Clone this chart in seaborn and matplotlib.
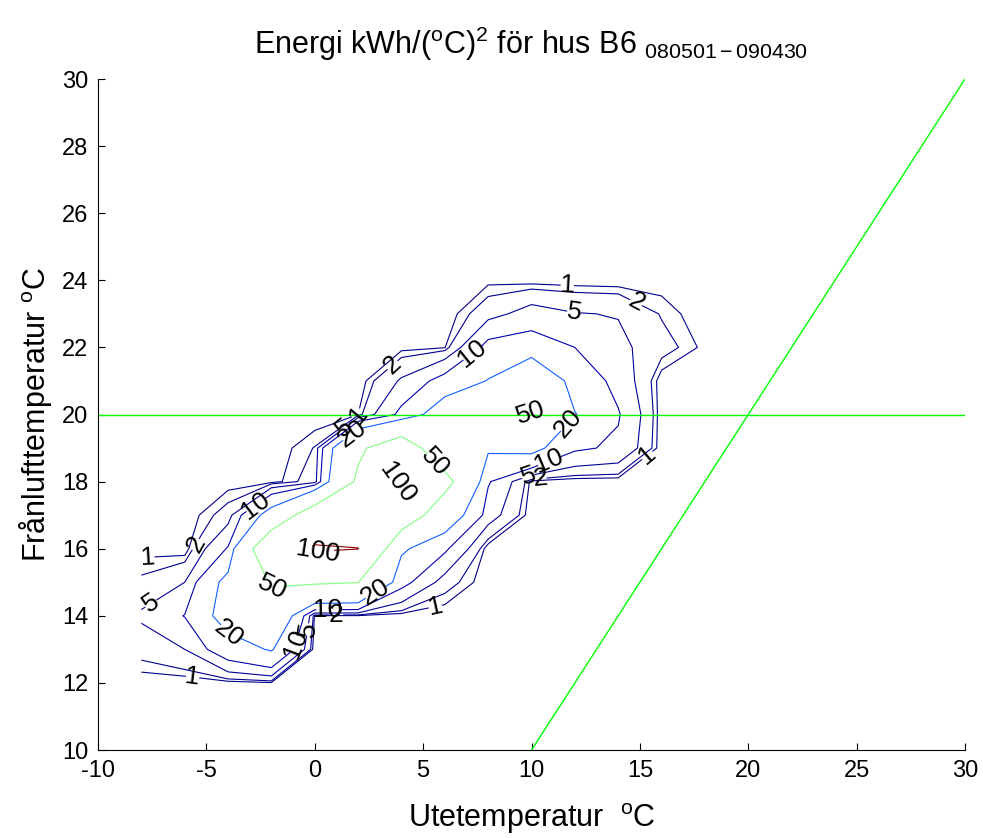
import numpy as np
import pandas as pd
import matplotlib
matplotlib.use("Agg")
import matplotlib.pyplot as plt
import seaborn as sns

# =====================================================================
# DATA
# =====================================================================
ute_temp = [-8, -6, -4, -2, 0, 2, 4, 6, 8, 10, 12, 14, 16, 18]
franluft_temp = [12, 13, 14, 15, 16, 17, 18, 19, 20, 21, 22, 23, 24]

# energy per cell, one row per franluft_temp value (columns = ute_temp)
energi = [
    [0.1, 0.0, 0.3, 0.8, 0.0, 0.0, 0.0, 0.0, 0.0, 0.0, 0.0, 0.0, 0.0, 0.0],
    [2.9, 5.0, 14.6, 21.0, 0.0, 0.0, 0.0, 0.0, 0.0, 0.0, 0.0, 0.0, 0.0, 0.0],
    [5.6, 10.2, 25.4, 38.0, 0.7, 0.7, 0.16, 0.0, 0.0, 0.0, 0.0, 0.0, 0.0, 0.0],
    [2.4, 5.0, 24.0, 52.0, 53.0, 50.5, 12.2, 3.0, 0.0, 0.0, 0.0, 0.0, 0.0, 0.0],
    [0.5, 0.0, 10.5, 80.0, 104.0, 100.5, 22.0, 11.0, 0.0, 0.0, 0.0, 0.0, 0.0, 0.0],
    [0.0, 0.0, 3.0, 26.0, 70.0, 80.0, 72.0, 30.0, 7.0, 0.0, 0.0, 0.0, 0.0, 0.0],
    [0.0, 0.0, 0.3, 0.3, 3.1, 55.0, 106.0, 60.0, 10.6, 0.5, 0.0, 0.0, 0.0, 0.0],
    [0.0, 0.0, 0.0, 0.0, 2.1, 45.0, 70.0, 26.7, 21.8, 24.0, 11.0, 9.0, 0.0, 0.0],
    [0.0, 0.0, 0.0, 0.0, 0.0, 1.0, 11.6, 28.4, 35.0, 51.0, 20.5, 10.5, 0.0, 0.0],
    [0.0, 0.0, 0.0, 0.0, 0.0, 0.0, 5.5, 12.5, 20.5, 36.0, 15.0, 8.0, 0.1, 0.0],
    [0.0, 0.0, 0.0, 0.0, 0.0, 0.0, 0.5, 0.9, 12.0, 13.2, 10.0, 6.0, 2.9, 0.6],
    [0.0, 0.0, 0.0, 0.0, 0.0, 0.0, 0.0, 0.0, 3.5, 6.8, 5.2, 4.8, 1.8, 0.0],
    [0.0, 0.0, 0.0, 0.0, 0.0, 0.0, 0.0, 0.0, 0.6, 0.3, 0.2, 0.1, 0.3, 0.0],
]

nivaer = [1, 2, 5, 10, 20, 50, 100]
niva_farg = ["#00008a", "#00008f", "#000099", "#0000b0", "#1060ff",
             "#80ff80", "#8c0000"]

# reference lines: constant 20 degC indoor and ute = franluft
horis_x = [-10, 30]
horis_y = [20, 20]
diag_x = [10, 30]
diag_y = [10, 30]

# where the contour labels sit in the reference, per level
etiketter = {
    1: [(11.65, 23.8), (14.9, 19.1), (2.0, 20.0), (-7.7, 15.7),
        (-5.65, 12.1), (5.55, 14.3)],
    2: [(14.7, 23.2), (3.7, 21.4), (10.4, 18.0), (-5.4, 16.1), (1.0, 14.0)],
    5: [(11.9, 22.9), (9.9, 18.1), (1.5, 19.5), (-7.6, 14.4), (-0.4, 13.6)],
    10: [(7.3, 21.8), (10.8, 18.6), (-2.6, 17.2), (-1.1, 13.2), (0.6, 14.3)],
    20: [(11.6, 19.8), (1.9, 19.3), (-4.05, 13.4), (2.8, 14.7)],
    50: [(9.9, 20.1), (5.6, 18.6), (-1.96, 14.8)],
    100: [(3.7, 17.9), (0.15, 15.9)],
}

# =====================================================================
# PLOT
# =====================================================================
sns.set_theme(style="ticks")
plt.rcParams["font.family"] = ["Liberation Sans", "DejaVu Sans"]
plt.rcParams["mathtext.fontset"] = "custom"
plt.rcParams["mathtext.rm"] = "Liberation Sans"
plt.rcParams["mathtext.it"] = "Liberation Sans:italic"
plt.rcParams["mathtext.default"] = "regular"
plt.rcParams["axes.unicode_minus"] = False
plt.rcParams["text.color"] = "black"
plt.rcParams["axes.labelcolor"] = "black"

fig = plt.figure(figsize=(9.83, 8.38), dpi=100)
ax = fig.add_axes([0.0997, 0.105, 0.882, 0.8007])

X, Y = np.meshgrid(ute_temp, franluft_temp)
Z = np.array(energi)
# one contour set per level so each label lands on its own level
for niva, farg in zip(nivaer, niva_farg):
    cs = ax.contour(X, Y, Z, levels=[niva], colors=[farg], linewidths=0.8)
    ax.clabel(cs, fmt="%g", fontsize=19, colors="black",
              manual=etiketter[niva], inline=True, inline_spacing=3)

ref = pd.DataFrame({"x": horis_x, "y": horis_y})
sns.lineplot(data=ref, x="x", y="y", color="#00ff00", lw=1, ax=ax)
ref2 = pd.DataFrame({"x": diag_x, "y": diag_y})
sns.lineplot(data=ref2, x="x", y="y", color="#00ff00", lw=1, ax=ax)

ax.set_xlim(-10, 30)
ax.set_ylim(10, 30)
ax.set_xticks(range(-10, 31, 5))
ax.set_yticks(range(10, 31, 2))
ax.tick_params(direction="in", length=5, width=0.8, labelsize=17,
               colors="black", pad=7)
sns.despine(ax=ax)
for s in ["left", "bottom"]:
    ax.spines[s].set_color("black")
    ax.spines[s].set_linewidth(0.8)

ax.set_xlabel("Utetemperatur  $^{o}$C", fontsize=22, labelpad=14,
              color="black")
ax.set_ylabel("Frånlufttemperatur $^{o}$C", fontsize=22, labelpad=6,
              color="black")
ax.set_title("Energi kWh/($^{o}$C)$^{2}$ för hus B6 $_{080501-090430}$",
             fontsize=22, pad=18, color="black")

fig.savefig("out.png", dpi=100)
